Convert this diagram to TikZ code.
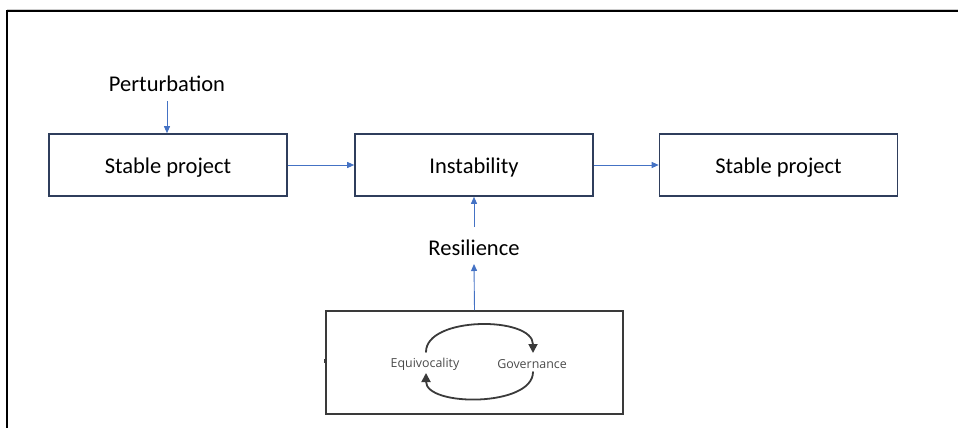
\documentclass[tikz,border=0pt]{standalone}
\usepackage{fontspec}
\setmainfont{Carlito}
\newfontfamily\loopfont{Open Sans}
\usetikzlibrary{arrows.meta}
\definecolor{boxline}{HTML}{2F3E5C}
\definecolor{flowblue}{HTML}{4472C4}
\definecolor{loopgray}{HTML}{3A3A3A}
\definecolor{labelgray}{HTML}{4A4A4A}
\begin{document}
\begin{tikzpicture}[x=1pt,y=-1pt,
  stagebox/.style={draw=boxline,line width=1.6pt,minimum width=238pt,minimum height=62pt,
    inner sep=0pt,text depth=0pt,font=\fontsize{22.5}{26}\selectfont},
  plainlabel/.style={inner sep=0pt,text depth=0pt,font=\fontsize{22.5}{26}\selectfont},
  flow/.style={draw=flowblue,line width=0.9pt,-{Triangle[length=7pt,width=6pt]}},
  looplabel/.style={inner sep=0pt,text=labelgray,font=\loopfont\fontsize{12.4}{14}\selectfont},
  loop/.style={draw=loopgray,line width=1.8pt,line cap=round,-{Triangle[length=9pt,width=9pt]}}]
\useasboundingbox (0,0) rectangle (958,428);
% page frame
\draw[gray!40,line width=0.8pt] (7,9) -- (958,9);
\draw[line width=2.2pt] (7,428) -- (7,11) -- (958,11);

% main row
\node[stagebox] (s1) at (168,165) {\raisebox{-2pt}{Stable project}};
\node[stagebox] (inst) at (474,165) {\raisebox{-2pt}{Instability}};
\node[stagebox] (s2) at (778.5,165) {\raisebox{-2pt}{Stable project}};
\node[plainlabel] (pert) at (167,83.5) {Perturbation};
\node[plainlabel] (res) at (474,247.5) {Resilience};

% feedback box
\node[draw=loopgray,line width=1.6pt,minimum width=297pt,minimum height=103pt,inner sep=0pt]
  (fb) at (474.5,362.5) {};
\node[looplabel] (equi) at (425,364) {Equivocality};
\node[looplabel] (gov) at (532,364) {Governance};
\fill[loopgray] ([xshift=-1pt]fb.west) rectangle ++(3,-4) coordinate (mk);

% connectors
\draw[flow] (pert.south |- 0,101) -- (s1.north -| pert.south);
\draw[flow] (s1.east) -- (inst.west);
\draw[flow] (inst.east) -- (s2.west);
\draw[flow] (fb.north) -- (474,264);
\draw[flow] (474,227) -- (inst.south);

% equivocality / governance loop
\draw[loop] (426,352) .. controls (426,316) and (533,316) .. (533,353);
\draw[loop] (533,372) .. controls (533,407) and (426,407) .. (426,373);
\end{tikzpicture}
\end{document}
